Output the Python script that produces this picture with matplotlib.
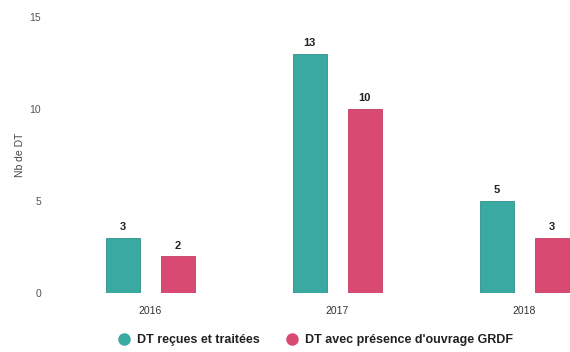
import matplotlib
matplotlib.use("Agg")
import matplotlib.pyplot as plt
from matplotlib.lines import Line2D
import numpy as np

years = ["2016", "2017", "2018"]
recues = [3, 13, 5]
grdf = [2, 10, 3]
series_names = ["DT reçues et traitées", "DT avec présence d'ouvrage GRDF"]
teal = "#3aa9a2"
pink = "#d94a72"

plt.rcParams['font.family'] = ['Liberation Sans', 'DejaVu Sans']
fig = plt.figure(figsize=(5.70, 3.52), dpi=100)
ax = fig.add_axes([55/570, (352-293)/352, (570-55)/570, (293-17)/352])

x = np.arange(len(years))
w = 0.18
off = 0.147
b1 = ax.bar(x - off, recues, w, color=teal, edgecolor="#2f8f8a", linewidth=0.6, label=series_names[0])
b2 = ax.bar(x + off, grdf, w, color=pink, edgecolor="#c23d63", linewidth=0.6, label=series_names[1])
for bars, vals in ((b1, recues), (b2, grdf)):
    for r, v in zip(bars, vals):
        ax.text(r.get_x() + r.get_width()/2, v + 0.3, str(v), ha="center", va="bottom",
                fontsize=8, fontweight="bold", color="#222222")

ax.set_xlim(-0.51, 2.245)
ax.set_ylim(0, 15)
ax.set_yticks([0, 5, 10, 15])
ax.set_xticks(x)
ax.set_xticklabels(years)
for s in ax.spines.values():
    s.set_visible(False)
ax.tick_params(axis="both", length=0, labelsize=7.5, colors="#555555")
ax.tick_params(axis="x", pad=9, colors="#333333")
ax.tick_params(axis="y", pad=10)
ax.set_ylabel("Nb de DT", fontsize=7.5, color="#444444", labelpad=3)

handles = [Line2D([], [], marker="o", linestyle="none", markersize=9, markerfacecolor=teal, markeredgecolor="none"),
           Line2D([], [], marker="o", linestyle="none", markersize=9, markerfacecolor=pink, markeredgecolor="none")]
leg = fig.legend(handles=handles, labels=series_names, loc="center", bbox_to_anchor=(316/570, (352-340)/352),
                 ncol=2, frameon=False, fontsize=9, handlelength=0.8,
                 columnspacing=2.2, handletextpad=0.6)
for t in leg.get_texts():
    t.set_fontweight("bold")
    t.set_color("#222222")

fig.savefig("out.png", dpi=100)
